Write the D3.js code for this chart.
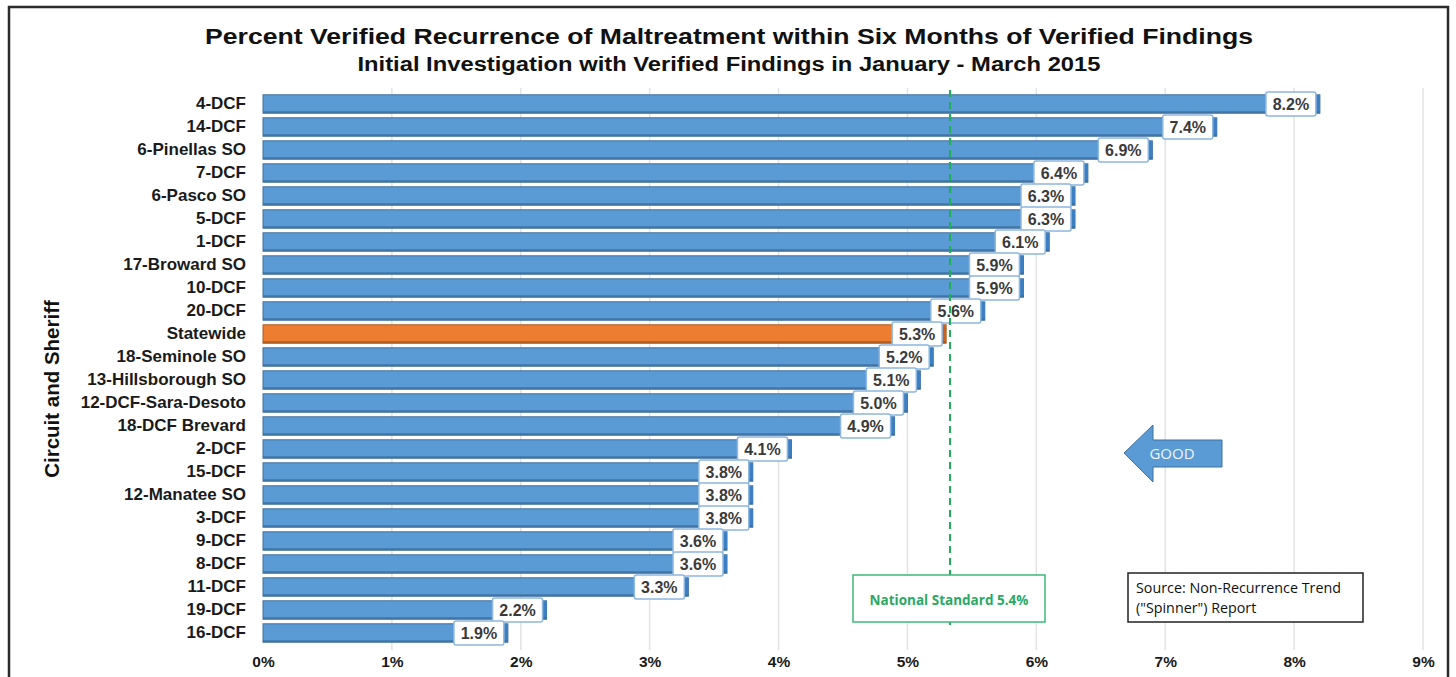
<!DOCTYPE html>
<html>
<head>
<meta charset="utf-8">
<script src="https://cdn.jsdelivr.net/npm/d3@7/dist/d3.min.js"></script>
<style>
  html, body { margin: 0; padding: 0; background: #fff; }
  svg { display: block; }
</style>
</head>
<body>
<svg id="chart" width="1456" height="677"></svg>
<script>
const categories = ["4-DCF","14-DCF","6-Pinellas SO","7-DCF","6-Pasco SO","5-DCF","1-DCF","17-Broward SO","10-DCF","20-DCF","Statewide","18-Seminole SO","13-Hillsborough SO","12-DCF-Sara-Desoto","18-DCF Brevard","2-DCF","15-DCF","12-Manatee SO","3-DCF","9-DCF","8-DCF","11-DCF","19-DCF","16-DCF"];
const values = [8.2,7.4,6.9,6.4,6.3,6.3,6.1,5.9,5.9,5.6,5.3,5.2,5.1,5.0,4.9,4.1,3.8,3.8,3.8,3.6,3.6,3.3,2.2,1.9];
const tickValues = [0,1,2,3,4,5,6,7,8,9];
const highlightCategory = "Statewide";
const nationalStandardLine = 5.33;
const nationalStandardLabel = "National Standard 5.4%";
const titleText = "Percent Verified Recurrence of Maltreatment within Six Months of Verified Findings";
const subtitleText = "Initial Investigation with Verified Findings in January - March 2015";
const yAxisTitle = "Circuit and Sheriff";
const sourceLines = ["Source: Non-Recurrence Trend", "(\"Spinner\") Report"];
const arrowText = "GOOD";

const data = categories.map((c, i) => ({ cat: c, val: values[i] }));
const svg = d3.select("#chart");
const FONT = "'Liberation Sans', Arial, sans-serif";
const FONT2 = "'Open Sans', 'Liberation Sans', sans-serif";

const x = d3.scaleLinear().domain([0, 9]).range([263, 1423]);
const y = d3.scaleBand().domain(categories).range([92.5, 644.5]).paddingInner(0.2).paddingOuter(0.1);

// frame
svg.append("rect").attr("x", 9).attr("y", 7).attr("width", 1439).attr("height", 690)
  .attr("fill", "none").attr("stroke", "#2b2b2b").attr("stroke-width", 2.5);

// gridlines
svg.append("g").selectAll("line").data(tickValues.slice(1)).join("line")
  .attr("x1", d => x(d)).attr("x2", d => x(d)).attr("y1", 88).attr("y2", 650)
  .attr("stroke", "#e3e3e3").attr("stroke-width", 1.5);

// titles
svg.append("text").attr("x", 729).attr("y", 43.5).attr("text-anchor", "middle")
  .attr("font-family", FONT).attr("font-weight", "bold").attr("font-size", 22.5).attr("fill", "#111")
  .attr("textLength", 1048).attr("lengthAdjust", "spacingAndGlyphs")
  .text(titleText);
svg.append("text").attr("x", 729).attr("y", 70.5).attr("text-anchor", "middle")
  .attr("font-family", FONT).attr("font-weight", "bold").attr("font-size", 20).attr("fill", "#111")
  .attr("textLength", 743).attr("lengthAdjust", "spacingAndGlyphs")
  .text(subtitleText);

// y axis (category labels)
const yAxis = d3.axisLeft(y).tickSize(0).tickPadding(17);
const yg = svg.append("g").attr("transform", `translate(${x(0)},0)`).call(yAxis);
yg.select(".domain").remove();
yg.selectAll("text").attr("font-family", FONT).attr("font-weight", "bold").attr("font-size", 17).attr("fill", "#1a1a1a");

// x axis
const xAxis = d3.axisBottom(x).tickValues(tickValues).tickFormat(d => d + "%").tickSize(0).tickPadding(0);
const xg = svg.append("g").attr("transform", `translate(0,656)`).call(xAxis);
xg.select(".domain").remove();
xg.selectAll("text").attr("font-family", FONT).attr("font-weight", "bold").attr("font-size", 15.5).attr("fill", "#1a1a1a");

// y axis title
svg.append("text").attr("transform", "translate(59,389) rotate(-90)").attr("text-anchor", "middle")
  .attr("font-family", FONT).attr("font-weight", "bold").attr("font-size", 20.5).attr("fill", "#111")
  .text(yAxisTitle);

// bars
const bars = svg.append("g").selectAll("g").data(data).join("g");
bars.append("rect")
  .attr("x", x(0)).attr("y", d => y(d.cat))
  .attr("width", d => x(d.val) - x(0)).attr("height", y.bandwidth())
  .attr("fill", d => d.cat === highlightCategory ? "#ed7d31" : "#5b9bd5")
  .attr("stroke", d => d.cat === highlightCategory ? "#ae5a21" : "#41719c").attr("stroke-width", 1);
// end caps
bars.append("rect")
  .attr("x", d => x(d.val) - 5).attr("y", d => y(d.cat) + 0.5)
  .attr("width", 5).attr("height", y.bandwidth() - 1)
  .attr("fill", d => d.cat === highlightCategory ? "#c5631f" : "#3c7fc2");
// bottom shade
bars.append("rect")
  .attr("x", x(0)).attr("y", d => y(d.cat) + y.bandwidth() - 2)
  .attr("width", d => x(d.val) - x(0)).attr("height", 2)
  .attr("fill", d => d.cat === highlightCategory ? "#9e521c" : "#3a6a99").attr("opacity", 0.7);

// value labels
const boxW = 50, boxH = 24;
const lab = svg.append("g").selectAll("g").data(data).join("g")
  .attr("transform", d => `translate(${x(d.val) - 4 - boxW},${y(d.cat) + y.bandwidth() / 2 - boxH / 2})`);
lab.append("rect").attr("width", boxW).attr("height", boxH).attr("rx", 2)
  .attr("fill", "#fff").attr("stroke", "#8db6e0").attr("stroke-width", 1.5);
lab.append("text").attr("x", boxW / 2).attr("y", boxH / 2 + 6).attr("text-anchor", "middle")
  .attr("font-family", FONT).attr("font-weight", "bold").attr("font-size", 16).attr("fill", "#3a3a3a")
  .text(d => d.val.toFixed(1) + "%");

// national standard line
svg.append("line").attr("x1", x(nationalStandardLine)).attr("x2", x(nationalStandardLine))
  .attr("y1", 90).attr("y2", 626)
  .attr("stroke", "#1fae57").attr("stroke-width", 2).attr("stroke-dasharray", "7,5");

// national standard box
svg.append("rect").attr("x", 853).attr("y", 575).attr("width", 192).attr("height", 47)
  .attr("fill", "#fff").attr("stroke", "#3cb878").attr("stroke-width", 1.5);
svg.append("text").attr("x", 949).attr("y", 605).attr("text-anchor", "middle")
  .attr("font-family", FONT2).attr("font-weight", "bold").attr("font-size", 13.5)
  .attr("fill", "#2aa866").text(nationalStandardLabel);

// source box
svg.append("rect").attr("x", 1128).attr("y", 573).attr("width", 235).attr("height", 49)
  .attr("fill", "#fff").attr("stroke", "#222").attr("stroke-width", 1.5);
svg.append("g").selectAll("text").data(sourceLines).join("text")
  .attr("x", 1136).attr("y", (d, i) => 593 + i * 20)
  .attr("font-family", FONT2).attr("font-size", 14.3).attr("fill", "#111")
  .text(d => d);

// GOOD arrow
const arrowPts = [[1124,453],[1153,425],[1153,440],[1222,440],[1222,467],[1153,467],[1153,482]];
svg.append("path").attr("d", d3.line()(arrowPts) + "Z")
  .attr("fill", "#5b9bd5").attr("stroke", "#41719c").attr("stroke-width", 1);
svg.append("text").attr("x", 1172).attr("y", 459).attr("text-anchor", "middle")
  .attr("font-family", FONT2).attr("font-size", 15).attr("fill", "#eef4fb")
  .text(arrowText);
</script>
</body>
</html>
